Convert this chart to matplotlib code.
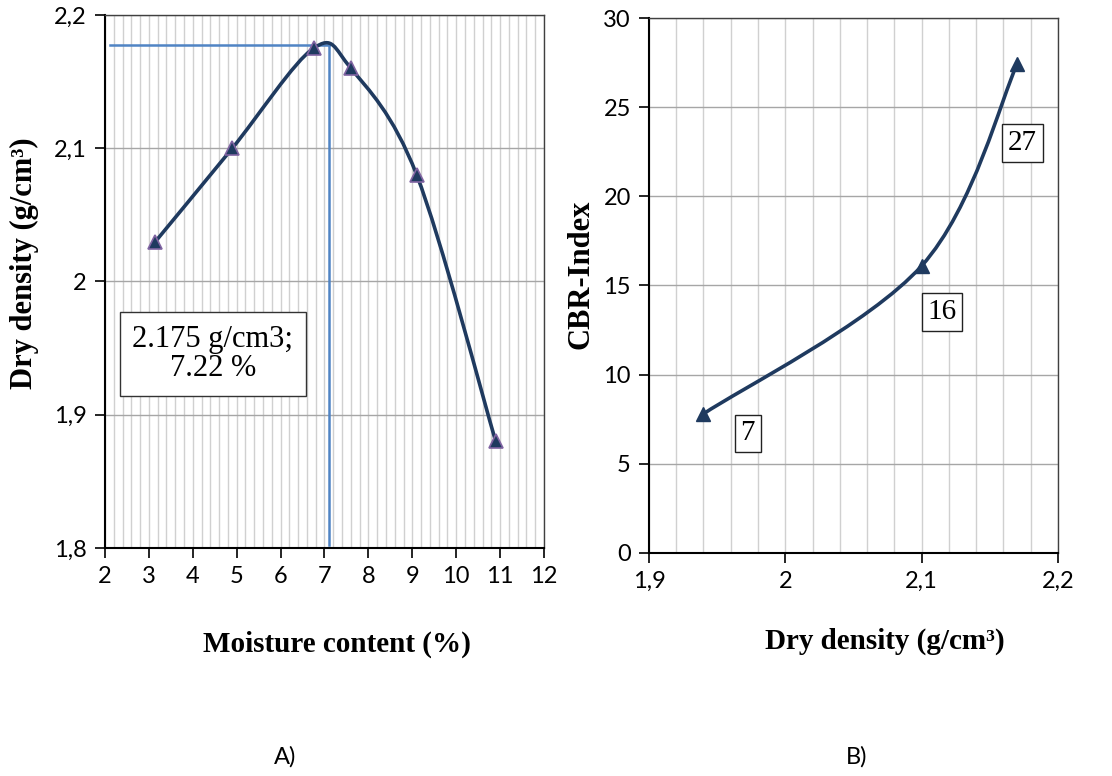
import numpy as np
import matplotlib
matplotlib.use("Agg")
import matplotlib.pyplot as plt
from matplotlib.path import Path
from matplotlib.patches import PathPatch
from matplotlib.ticker import MultipleLocator, FuncFormatter

# A) compaction curve
moisture = [3.15, 4.9, 6.75, 7.6, 9.1, 10.9]
dry_density = [2.03, 2.10, 2.175, 2.16, 2.08, 1.88]
opt_moisture = 7.1
max_density = 2.1775
opt_label = "2.175 g/cm3;\n7.22 %"

# B) CBR vs dry density
cbr_density = [1.94, 2.10, 2.17]
cbr_index = [7.8, 16.1, 27.4]
cbr_labels = ["7", "16", "27"]
cbr_label_pos = [(1.9725, 6.7), (2.115, 13.5), (2.174, 23.0)]

LINE = "#1F3A5F"
SERIF = "Liberation Serif"
SANS = "Lato"

plt.rcParams["font.family"] = [SANS, "DejaVu Sans"]


def smooth_path(x, y):
    # Excel-like smoothed line (Catmull-Rom as cubic Bezier)
    p = np.column_stack([x, y])
    n = len(p)
    verts = [p[0]]
    codes = [Path.MOVETO]
    for i in range(n - 1):
        a = p[i - 1] if i > 0 else p[i]
        d = p[i + 2] if i + 2 < n else p[i + 1]
        c1 = p[i] + (p[i + 1] - a) / 6
        c2 = p[i + 1] - (d - p[i]) / 6
        verts += [c1, c2, p[i + 1]]
        codes += [Path.CURVE4] * 3
    return Path(verts, codes)


comma = FuncFormatter(lambda v, pos: f"{v:g}".replace(".", ","))

fig = plt.figure(figsize=(11.12, 7.76), dpi=100)
ax1 = fig.add_axes([0.0944, 0.2938, 0.3948, 0.6869])
ax2 = fig.add_axes([0.5836, 0.2874, 0.3678, 0.6894])

for ax in (ax1, ax2):
    for s in ax.spines.values():
        s.set_color("#404040")
        s.set_linewidth(1.0)
    ax.spines["left"].set_color("black")
    ax.spines["bottom"].set_color("black")
    ax.spines["left"].set_linewidth(1.5)
    ax.spines["bottom"].set_linewidth(1.5)
    ax.tick_params(which="major", direction="out", length=7, width=1.2,
                   labelsize=17, pad=6)
    ax.tick_params(which="minor", length=0)
    ax.set_axisbelow(True)

# ---- A ----
ax1.set_xlim(2, 12)
ax1.set_ylim(1.8, 2.2)
ax1.xaxis.set_major_locator(MultipleLocator(1))
ax1.xaxis.set_minor_locator(MultipleLocator(0.2))
ax1.yaxis.set_major_locator(MultipleLocator(0.1))
ax1.yaxis.set_major_formatter(comma)
ax1.grid(which="minor", axis="x", color="#D0D0D0", linewidth=1.0)
ax1.grid(which="major", axis="x", color="#D0D0D0", linewidth=1.0)
ax1.grid(which="major", axis="y", color="#A6A6A6", linewidth=1.0)

ax1.plot([2.11, opt_moisture], [max_density, max_density], color="#5084C4", lw=1.8, zorder=2)
ax1.plot([opt_moisture, opt_moisture], [max_density, 1.802], color="#5084C4", lw=1.8, zorder=2)
ax1.add_patch(PathPatch(smooth_path(moisture, dry_density), fill=False,
                        edgecolor=LINE, lw=2.6, zorder=3))
ax1.plot(moisture, dry_density, ls="none", marker="^", ms=10, mfc=LINE,
         mec="#8064A2", mew=1.2, zorder=4)
ax1.text(4.46, 1.9455, opt_label, fontsize=22, family=SERIF, ha="center", va="center",
         linespacing=1.0,
         bbox=dict(boxstyle="square,pad=0.42", fc="white", ec="#333333", lw=1.0), zorder=5)

ax1.set_xlabel("Moisture content (%)", fontsize=21, family=SERIF, fontweight="bold")
ax1.xaxis.set_label_coords(0.528, -0.155)
ax1.set_ylabel("Dry density (g/cm³)", fontsize=22, family=SERIF, fontweight="bold")
ax1.yaxis.set_label_coords(-0.15, 0.535)

# ---- B ----
ax2.set_xlim(1.9, 2.2)
ax2.set_ylim(0, 30)
ax2.xaxis.set_major_locator(MultipleLocator(0.1))
ax2.xaxis.set_minor_locator(MultipleLocator(0.02))
ax2.yaxis.set_major_locator(MultipleLocator(5))
ax2.xaxis.set_major_formatter(comma)
ax2.grid(which="both", axis="x", color="#D0D0D0", linewidth=1.0)
ax2.grid(which="major", axis="y", color="#A6A6A6", linewidth=1.0)

ax2.add_patch(PathPatch(smooth_path(cbr_density, cbr_index), fill=False,
                        edgecolor=LINE, lw=2.6, zorder=3))
ax2.plot(cbr_density, cbr_index, ls="none", marker="^", ms=10, mfc=LINE,
         mec=LINE, zorder=4)
for lab, (lx, ly) in zip(cbr_labels, cbr_label_pos):
    ax2.text(lx, ly, lab, fontsize=21, family=SERIF, ha="center", va="center",
             bbox=dict(boxstyle="square,pad=0.2", fc="white", ec="#222222", lw=1.0), zorder=5)

ax2.set_xlabel("Dry density (g/cm³)", fontsize=21, family=SERIF, fontweight="bold")
ax2.xaxis.set_label_coords(0.577, -0.14)
ax2.set_ylabel("CBR-Index", fontsize=22, family=SERIF, fontweight="bold")
ax2.yaxis.set_label_coords(-0.13, 0.52)

fig.text(285 / 1112, 1 - 757 / 776, "A)", fontsize=17, ha="center", va="center")
fig.text(857 / 1112, 1 - 757 / 776, "B)", fontsize=17, ha="center", va="center")

fig.savefig("out.png", dpi=100)
